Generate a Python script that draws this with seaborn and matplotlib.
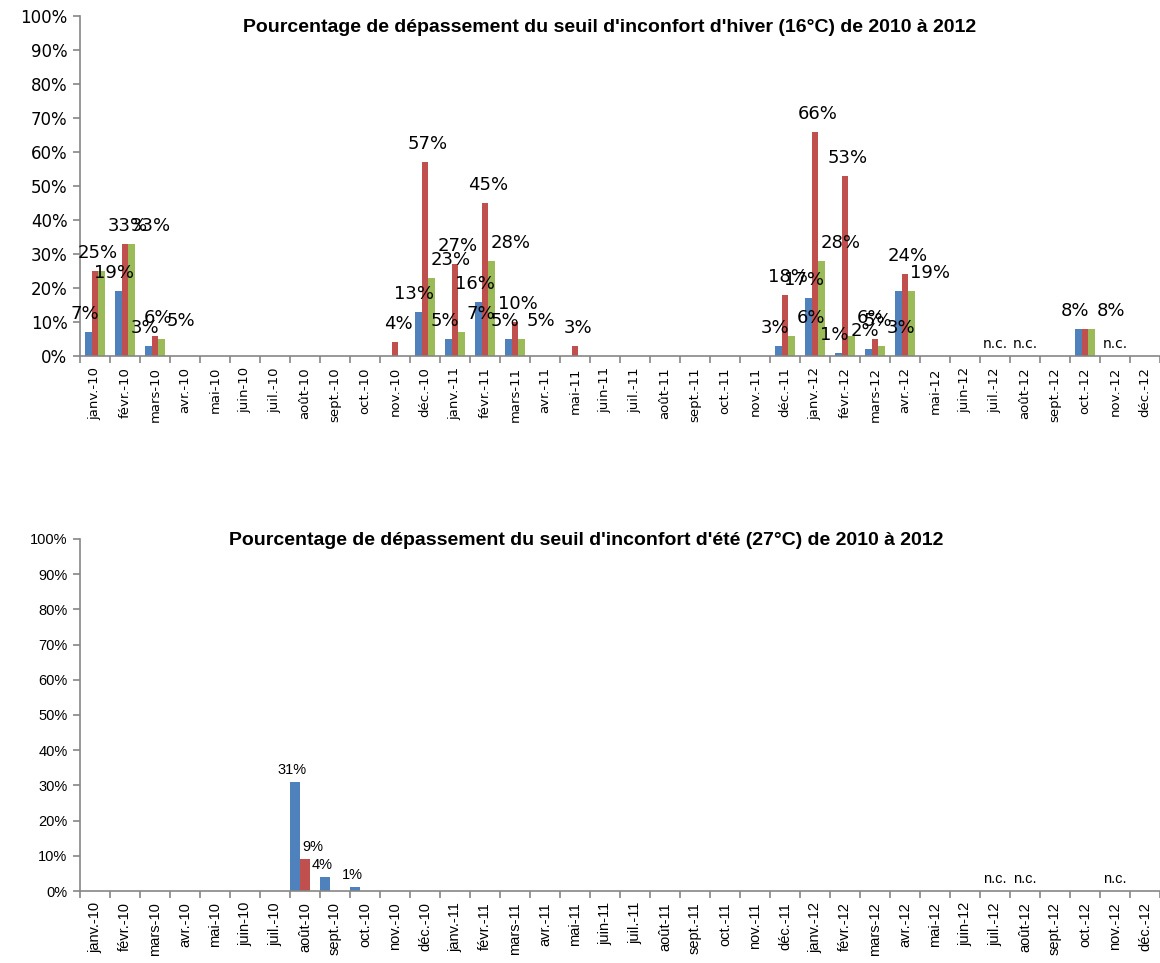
import numpy as np
import pandas as pd
import matplotlib
matplotlib.use("Agg")
import matplotlib.pyplot as plt
import matplotlib.transforms as mtransforms
import seaborn as sns

# ---------------- data ----------------
mois = ["janv.-10", "févr.-10", "mars-10", "avr.-10", "mai-10", "juin-10",
        "juil.-10", "août-10", "sept.-10", "oct.-10", "nov.-10", "déc.-10",
        "janv.-11", "févr.-11", "mars-11", "avr.-11", "mai-11", "juin-11",
        "juil.-11", "août-11", "sept.-11", "oct.-11", "nov.-11", "déc.-11",
        "janv.-12", "févr.-12", "mars-12", "avr.-12", "mai-12", "juin-12",
        "juil.-12", "août-12", "sept.-12", "oct.-12", "nov.-12", "déc.-12"]
series = ["Série 1", "Série 2", "Série 3"]
couleurs = ["#4F81BD", "#C0504D", "#9BBB59"]
nan = np.nan

titre_hiver = "Pourcentage de dépassement du seuil d'inconfort d'hiver (16°C) de 2010 à 2012"
titre_ete = "Pourcentage de dépassement du seuil d'inconfort d'été (27°C) de 2010 à 2012"

hiver_s1 = [7, 19, 3, 0, 0, 0, 0, 0, 0, 0, 0, 13,
            5, 16, 5, 0, 0, 0, 0, 0, 0, 0, 0, 3,
            17, 1, 2, 19, 0, 0, nan, nan, 0, 8, nan, 0]
hiver_s2 = [25, 33, 6, 0, 0, 0, 0, 0, 0, 0, 4, 57,
            27, 45, 10, 0, 3, 0, 0, 0, 0, 0, 0, 18,
            66, 53, 5, 24, 0, 0, nan, nan, 0, 8, nan, 0]
hiver_s3 = [25, 33, 5, 0, 0, 0, 0, 0, 0, 0, 0, 23,
            7, 28, 5, 0, 0, 0, 0, 0, 0, 0, 0, 6,
            28, 6, 3, 19, 0, 0, nan, nan, 0, 8, nan, 0]

ete_s1 = [0, 0, 0, 0, 0, 0, 0, 31, 4, 1, 0, 0,
          0, 0, 0, 0, 0, 0, 0, 0, 0, 0, 0, 0,
          0, 0, 0, 0, 0, 0, nan, nan, 0, 0, nan, 0]
ete_s2 = [0, 0, 0, 0, 0, 0, 0, 9, 0, 0, 0, 0,
          0, 0, 0, 0, 0, 0, 0, 0, 0, 0, 0, 0,
          0, 0, 0, 0, 0, 0, nan, nan, 0, 0, nan, 0]
ete_s3 = [0, 0, 0, 0, 0, 0, 0, 0, 0, 0, 0, 0,
          0, 0, 0, 0, 0, 0, 0, 0, 0, 0, 0, 0,
          0, 0, 0, 0, 0, 0, nan, nan, 0, 0, nan, 0]

# data labels not displayed in the original (category index, series index)
etiquettes_masquees_hiver = [(0, 2), (27, 0), (33, 1)]
etiquettes_masquees_ete = []

# ---------------- style ----------------
sns.set_theme(style="white")
plt.rcParams["font.family"] = ["DejaVu Sans"]
plt.rcParams["text.color"] = "black"
plt.rcParams["xtick.labelcolor"] = "black"
plt.rcParams["ytick.labelcolor"] = "black"
GRIS = "#868686"

W, H = 1160, 963
fig = plt.figure(figsize=(W / 100, H / 100), dpi=100)


def long_df(s1, s2, s3):
    return pd.DataFrame({
        "mois": mois * 3,
        "serie": [s for s in series for _ in mois],
        "valeur": list(s1) + list(s2) + list(s3),
    })


def draw(ax, valeurs, width, titre, title_pos, fam, tick_fs, xtick_fs, lab_fs,
         lab_dx, lab_dy, nc_fs, masquees, title_fs):
    df = long_df(*valeurs)
    sns.barplot(data=df, x="mois", y="valeur", hue="serie", order=mois,
                hue_order=series, palette=couleurs, width=width, dodge=True,
                saturation=1, errorbar=None, linewidth=0, legend=False, ax=ax)
    ax.set_xlim(-0.5, len(mois) - 0.5)
    ax.set_ylim(0, 100)
    ax.set_xlabel("")
    ax.set_ylabel("")
    for sp in ["top", "right"]:
        ax.spines[sp].set_visible(False)
    for sp in ["left", "bottom"]:
        ax.spines[sp].set_color(GRIS)
        ax.spines[sp].set_linewidth(1.2)
    # y axis
    yt = np.arange(0, 101, 10)
    ax.set_yticks(yt)
    ax.set_yticklabels([f"{v}%" for v in yt], fontsize=tick_fs, family=fam,
                       color="black")
    ax.tick_params(axis="y", direction="out", length=5, width=1.2,
                   color=GRIS, pad=4, labelcolor="black", left=True)
    # x axis: ticks at category boundaries, labels at centres
    ax.set_xticks(np.arange(-0.5, len(mois), 1.0))
    ax.set_xticklabels([])
    ax.set_xticks(np.arange(len(mois)), minor=True)
    ax.set_xticklabels(mois, minor=True, rotation=90, fontsize=xtick_fs,
                       family=fam, va="top", ha="center", color="black")
    ax.tick_params(axis="x", which="major", direction="out", length=5,
                   width=1.2, color=GRIS, bottom=True)
    ax.tick_params(axis="x", which="minor", length=0, pad=8, bottom=True)

    # data labels
    for si, cont in enumerate(ax.containers):
        vals = valeurs[si]
        off = mtransforms.offset_copy(ax.transData, fig=fig, x=lab_dx[si],
                                      y=lab_dy, units="dots")
        for patch in cont.patches:
            cx = patch.get_x() + patch.get_width() / 2
            ci = int(round(cx))
            v = vals[ci]
            if v is None or np.isnan(v) or v == 0 or (ci, si) in masquees:
                continue
            ax.text(cx, v, f"{v:.0f}%", transform=off, ha="center",
                    va="center", fontsize=lab_fs, family=fam, color="black")
    # n.c. labels
    offnc = mtransforms.offset_copy(ax.transData, fig=fig, x=0, y=12,
                                    units="dots")
    for ci, m in enumerate(mois):
        if all(np.isnan(valeurs[s][ci]) for s in range(3)):
            ax.text(ci, 0, "n.c.", transform=offnc, ha="center", va="center",
                    fontsize=nc_fs, family=fam, color="black")
    ax.text(title_pos[0], title_pos[1], titre, transform=ax.transAxes,
            ha="center", va="center", fontsize=title_fs, fontweight="bold",
            family="Liberation Sans", color="black")


ax1 = fig.add_axes([80 / W, 1 - 356 / H, 1080 / W, 340 / H])
draw(ax1, [hiver_s1, hiver_s2, hiver_s3], 0.65, titre_hiver, (0.49, 0.965),
     "DejaVu Sans", 12, 9.5, 13, [-4, 3, 19], 18, 10,
     etiquettes_masquees_hiver, 14)

ax2 = fig.add_axes([80 / W, 1 - 891 / H, 1080 / W, 352 / H])
draw(ax2, [ete_s1, ete_s2, ete_s3], 1.0, titre_ete, (0.469, 0.997),
     "Liberation Sans", 10.5, 10.5, 10.5, [-3, 8, 8], 12, 10.5,
     etiquettes_masquees_ete, 14)

fig.savefig("out.png", dpi=100)
